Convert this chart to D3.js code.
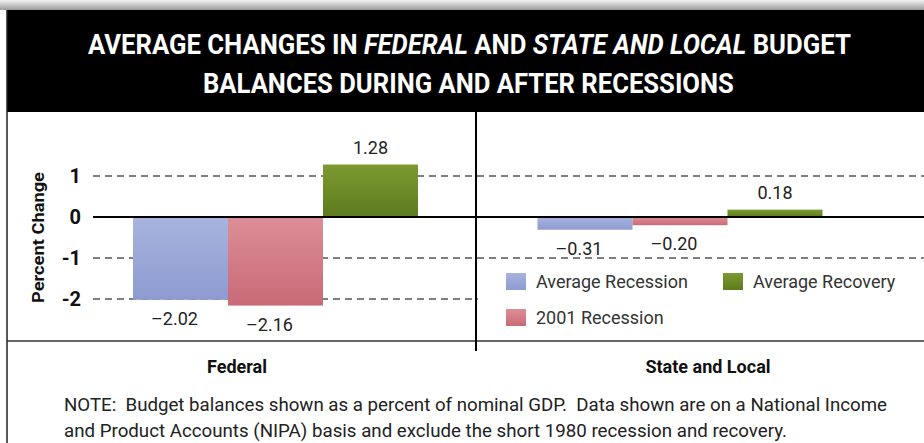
<!DOCTYPE html>
<html>
<head>
<meta charset="utf-8">
<script src="https://cdn.jsdelivr.net/npm/d3@7"></script>
<style>
  body { margin: 0; background: #fff; }
  svg text { font-family: "Roboto", "Liberation Sans", sans-serif; }
</style>
</head>
<body>
<div class="main"></div>
<script>
const WIDTH = 924;
const HEIGHT = 443;

// data
const categories = ["Federal", "State and Local"];
const seriesNames = ["Average Recession", "2001 Recession", "Average Recovery"];
const federalValues = [-2.02, -2.16, 1.28];
const stateLocalValues = [-0.31, -0.20, 0.18];
const valueLabels = [["\u20132.02", "\u20132.16", "1.28"], ["\u20130.31", "\u20130.20", "0.18"]];
const yTicks = [-2, -1, 0, 1];
const noteLines = [
    "NOTE:  Budget balances shown as a percent of nominal GDP.  Data shown are on a National Income",
    "and Product Accounts (NIPA) basis and exclude the short 1980 recession and recovery."
];

const colors = {
    "Average Recession": ["#a8b3de", "#8d9bd0"],
    "2001 Recession": ["#dc8e97", "#c96a77"],
    "Average Recovery": ["#7c9a31", "#5e7b1e"]
};

var svg = d3.select(".main")
    .append("svg")
        .attr("width", WIDTH)
        .attr("height", HEIGHT);

// squeeze a text horizontally so it spans the given width
function squeeze(g, width) {
    var w = g.node().getBBox().width;
    var tr = g.attr("data-pos");
    g.attr("transform", `translate(${tr}) scale(${width / w},1)`);
}

var defs = svg.append("defs");
var shade = defs.append("linearGradient")
    .attr("id", "shade").attr("x1", 0).attr("x2", 0).attr("y1", 0).attr("y2", 1);
shade.append("stop").attr("offset", "0%").attr("stop-color", "#f2f2f2");
shade.append("stop").attr("offset", "100%").attr("stop-color", "#9a9a9a");

seriesNames.forEach((s, i) => {
    var g = defs.append("linearGradient")
        .attr("id", "grad" + i).attr("x1", 0).attr("x2", 0).attr("y1", 0).attr("y2", 1);
    g.append("stop").attr("offset", "0%").attr("stop-color", colors[s][0]);
    g.append("stop").attr("offset", "100%").attr("stop-color", colors[s][1]);
});

// header
svg.append("rect").attr("x", 0).attr("y", 0).attr("width", WIDTH).attr("height", 10)
    .attr("fill", "url(#shade)");
svg.append("rect").attr("x", 7).attr("y", 10).attr("width", WIDTH - 7).attr("height", 102)
    .attr("fill", "#000");

var t1 = svg.append("text")
    .attr("data-pos", "88,54")
    .attr("fill", "#fff").attr("font-size", 28).attr("font-weight", "bold");
t1.append("tspan").text("AVERAGE CHANGES IN ");
t1.append("tspan").attr("font-style", "italic").text("FEDERAL");
t1.append("tspan").text(" AND ");
t1.append("tspan").attr("font-style", "italic").text("STATE AND LOCAL");
t1.append("tspan").text(" BUDGET");
squeeze(t1, 763);

var t2 = svg.append("text")
    .attr("data-pos", "203,93")
    .attr("fill", "#fff").attr("font-size", 28).attr("font-weight", "bold")
    .text("BALANCES DURING AND AFTER RECESSIONS");
squeeze(t2, 531);

// scales
var y = d3.scaleLinear().domain([-2, 1]).range([299, 176]);
var x0 = d3.scaleBand().domain(categories).range([73.25, 882.25]);
var x1 = d3.scaleBand().domain(seriesNames)
    .range([(x0.bandwidth() - 285) / 2, (x0.bandwidth() + 285) / 2]);

// gridlines
svg.append("g")
    .selectAll("line")
    .data(yTicks.filter(d => d !== 0))
    .join("line")
        .attr("x1", 93).attr("x2", WIDTH)
        .attr("y1", d => y(d)).attr("y2", d => y(d))
        .attr("stroke", "#555").attr("stroke-width", 1.5)
        .attr("stroke-dasharray", "7,5");

// bars
var rows = [federalValues, stateLocalValues];
var groups = svg.append("g")
    .selectAll("g")
    .data(categories)
    .join("g")
        .attr("transform", d => `translate(${x0(d)},0)`);

groups.selectAll("rect")
    .data((d, ci) => rows[ci].map((v, i) => ({ s: seriesNames[i], v: v, i: i })))
    .join("rect")
        .attr("x", d => x1(d.s))
        .attr("width", x1.bandwidth())
        .attr("y", d => y(Math.max(0, d.v)))
        .attr("height", d => Math.abs(y(d.v) - y(0)))
        .attr("fill", d => `url(#grad${d.i})`);

groups.selectAll("text")
    .data((d, ci) => rows[ci].map((v, i) => ({ s: seriesNames[i], v: v, label: valueLabels[ci][i] })))
    .join("text")
        .attr("x", d => x1(d.s) + x1.bandwidth() / 2 - (d.v < 0 ? 6 : 0))
        .attr("y", d => d.v < 0 ? y(d.v) + 25 : y(d.v) - 11)
        .attr("text-anchor", "middle")
        .attr("font-size", 18)
        .attr("fill", "#222")
        .text(d => d.label);

// zero line
svg.append("line")
    .attr("x1", 93).attr("x2", WIDTH)
    .attr("y1", y(0)).attr("y2", y(0))
    .attr("stroke", "#000").attr("stroke-width", 2);

// y axis
var yAxis = svg.append("g")
    .attr("transform", "translate(93,0)")
    .call(d3.axisLeft(y).tickValues(yTicks).tickSize(0).tickPadding(12)
        .tickFormat(d => String(d)));
yAxis.select(".domain").remove();
yAxis.selectAll("text")
    .attr("font-size", 20).attr("font-weight", "bold").attr("fill", "#111")
    .style("font-family", "Roboto, sans-serif");

svg.append("text")
    .attr("transform", "translate(44,237.5) rotate(-90)")
    .attr("text-anchor", "middle")
    .attr("textLength", 131).attr("lengthAdjust", "spacingAndGlyphs")
    .attr("font-size", 17).attr("font-weight", "bold").attr("fill", "#111")
    .text("Percent Change");

// legend
var legend = svg.append("g");
legend.append("rect")
    .attr("x", 478).attr("y", 262).attr("width", WIDTH - 478).attr("height", 76)
    .attr("fill", "#fff");
var legendPos = [[506, 273], [506, 309], [723, 273]];
var item = legend.selectAll("g.item")
    .data(seriesNames)
    .join("g")
        .attr("class", "item")
        .attr("transform", (d, i) => `translate(${legendPos[i][0]},${legendPos[i][1]})`);
item.append("rect")
    .attr("width", 20).attr("height", 17)
    .attr("fill", (d, i) => `url(#grad${i})`);
item.append("text")
    .attr("x", 30).attr("y", 15)
    .attr("font-size", 18).attr("fill", "#333")
    .text(d => d);

// frame lines
svg.append("line")
    .attr("x1", 7).attr("x2", WIDTH).attr("y1", 341).attr("y2", 341)
    .attr("stroke", "#333").attr("stroke-width", 1.5);
svg.append("line")
    .attr("x1", 476).attr("x2", 476).attr("y1", 112).attr("y2", 351)
    .attr("stroke", "#000").attr("stroke-width", 2);
svg.append("line")
    .attr("x1", 7).attr("x2", 7).attr("y1", 10).attr("y2", HEIGHT)
    .attr("stroke", "#222").attr("stroke-width", 1.5);

// category labels
var catX = [237, 708];
svg.append("g")
    .selectAll("text")
    .data(categories)
    .join("text")
        .attr("x", (d, i) => catX[i]).attr("y", 373)
        .attr("text-anchor", "middle")
        .attr("font-size", 18).attr("font-weight", "bold").attr("fill", "#111")
        .text(d => d);

// note
var noteLen = [823, 723];
svg.append("g")
    .selectAll("text")
    .data(noteLines)
    .join("text")
        .attr("x", 64).attr("y", (d, i) => 411 + i * 26)
        .attr("textLength", (d, i) => noteLen[i])
        .attr("lengthAdjust", "spacingAndGlyphs")
        .attr("font-size", 18).attr("fill", "#222")
        .attr("xml:space", "preserve")
        .text(d => d);
</script>
</body>
</html>
